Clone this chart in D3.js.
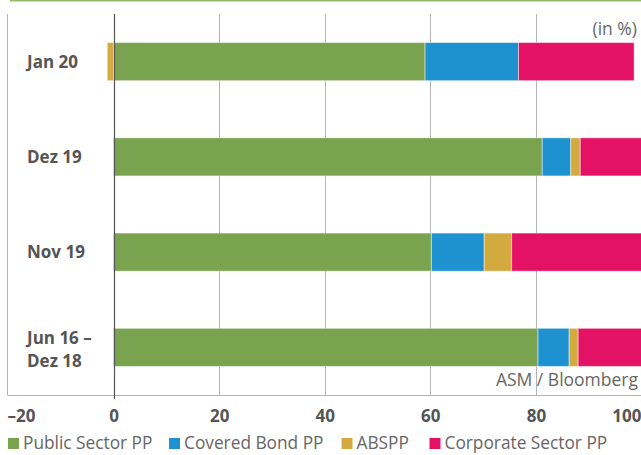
<!DOCTYPE html>
<html>
<head>
<meta charset="utf-8">
<script src="https://cdn.jsdelivr.net/npm/d3@7"></script>
<style>
  html, body { margin: 0; padding: 0; background: #fff; }
  svg { display: block; font-family: "Open Sans", "Noto Sans", sans-serif; }
</style>
</head>
<body>
<svg id="chart" width="641" height="455"></svg>
<script>
// Purchase programme shares by period (in %)
const categories = ["Jan 20", "Dez 19", "Nov 19", "Jun 16 –\nDez 18"];
const seriesNames = ["Public Sector PP", "Covered Bond PP", "ABSPP", "Corporate Sector PP"];
const publicSector = [59.0, 81.2, 60.2, 80.4];
const coveredBond = [17.7, 5.4, 10.0, 5.9];
const abspp = [-1.2, 1.8, 5.2, 1.7];
const corporateSector = [21.9, 11.6, 24.6, 12.0];
const xTicks = [-20, 0, 20, 40, 60, 80, 100];
const xTickLabels = ["–20", "0", "20", "40", "60", "80", "100"];
const colors = ["#79a34e", "#1e92d0", "#d3aa40", "#e41265"];

const rows = categories.map((c, i) => ({
  cat: c,
  "Public Sector PP": publicSector[i],
  "Covered Bond PP": coveredBond[i],
  "ABSPP": abspp[i],
  "Corporate Sector PP": corporateSector[i]
}));

const svg = d3.select("#chart");
const plotTop = 14, plotBottom = 395;

const x = d3.scaleLinear().domain([-20, 100]).range([8, 641.5]);
const y = d3.scaleBand().domain(categories).range([plotTop, plotBottom])
  .paddingInner(0.6).paddingOuter(0.3);
const color = d3.scaleOrdinal().domain(seriesNames).range(colors);

// top rule
svg.append("line")
  .attr("x1", 10).attr("x2", 641).attr("y1", 0.5).attr("y2", 0.5)
  .attr("stroke", "#8fbb6c").attr("stroke-width", 2);

// vertical grid
svg.append("g").selectAll("line")
  .data(xTicks.filter(t => t !== 0 && t !== -20))
  .join("line")
  .attr("x1", d => Math.round(x(d)) + 0.5).attr("x2", d => Math.round(x(d)) + 0.5)
  .attr("y1", plotTop).attr("y2", plotBottom)
  .attr("stroke", "#b4b4b8").attr("stroke-width", 1);

// frame: left and bottom
svg.append("line")
  .attr("x1", 7.5).attr("x2", 7.5).attr("y1", plotTop).attr("y2", plotBottom)
  .attr("stroke", "#b4b4b8");
svg.append("line")
  .attr("x1", 7.5).attr("x2", 641).attr("y1", plotBottom + 0.5).attr("y2", plotBottom + 0.5)
  .attr("stroke", "#b4b4b8");

// stacked bars (negative values stack to the left of zero)
const stack = d3.stack().keys(seriesNames).offset(d3.stackOffsetDiverging);
const layers = stack(rows);

svg.append("g").selectAll("g")
  .data(layers)
  .join("g")
  .attr("fill", d => color(d.key))
  .selectAll("rect")
  .data(d => d)
  .join("rect")
  .attr("x", d => x(Math.min(d[0], d[1])))
  .attr("width", d => Math.abs(x(d[1]) - x(d[0])))
  .attr("y", d => y(d.data.cat))
  .attr("height", y.bandwidth())
  .attr("stroke", "rgba(255,255,255,0.45)")
  .attr("stroke-width", 1);

// zero line
svg.append("line")
  .attr("x1", Math.round(x(0)) + 0.5).attr("x2", Math.round(x(0)) + 0.5)
  .attr("y1", plotTop).attr("y2", plotBottom + 4)
  .attr("stroke", "#555").attr("stroke-width", 1.2);

// category labels
const catG = svg.append("g");
categories.forEach(c => {
  const lines = c.split("\n");
  const cy = y(c) + y.bandwidth() / 2;
  const lh = 22.7;
  const first = lines.length > 1 ? cy - 3 : cy + 6;
  const t = catG.append("text")
    .attr("font-size", 17).attr("font-weight", 700).attr("fill", "#555");
  lines.forEach((ln, i) => {
    t.append("tspan").attr("x", 27).attr("y", first + i * lh).text(ln);
  });
});

// x axis labels
const xAxis = d3.axisBottom(x).tickValues(xTicks)
  .tickFormat((d, i) => xTickLabels[i]).tickSize(0).tickPadding(0);
const axG = svg.append("g").attr("transform", `translate(0, 422)`).call(xAxis);
axG.select(".domain").remove();
axG.selectAll("text")
  .attr("dy", 0).attr("y", 0)
  .attr("font-family", "\"Open Sans\", \"Noto Sans\", sans-serif")
  .attr("font-size", 17).attr("font-weight", 700).attr("fill", "#555")
  .attr("text-anchor", (d, i) => i === 0 ? "start" : (i === xTicks.length - 1 ? "end" : "middle"))
  .attr("x", (d, i) => i === 0 ? -1 : (i === xTicks.length - 1 ? -0.5 : 0));

// unit and source
svg.append("text").attr("x", 637).attr("y", 35)
  .attr("text-anchor", "end").attr("font-size", 17.5).attr("fill", "#666")
  .text("(in %)");
svg.append("text").attr("x", 638).attr("y", 386)
  .attr("text-anchor", "end").attr("font-size", 17.5).attr("fill", "#666")
  .text("ASM / Bloomberg");

// legend
const legendX = [8, 169, 341.5, 429.5];
const lg = svg.append("g");
seriesNames.forEach((s, i) => {
  lg.append("rect").attr("x", legendX[i]).attr("y", 438)
    .attr("width", 11).attr("height", 11).attr("fill", colors[i]);
  lg.append("text").attr("x", legendX[i] + 15).attr("y", 449)
    .attr("font-size", 17.3).attr("fill", "#666").text(s);
});
</script>
</body>
</html>
